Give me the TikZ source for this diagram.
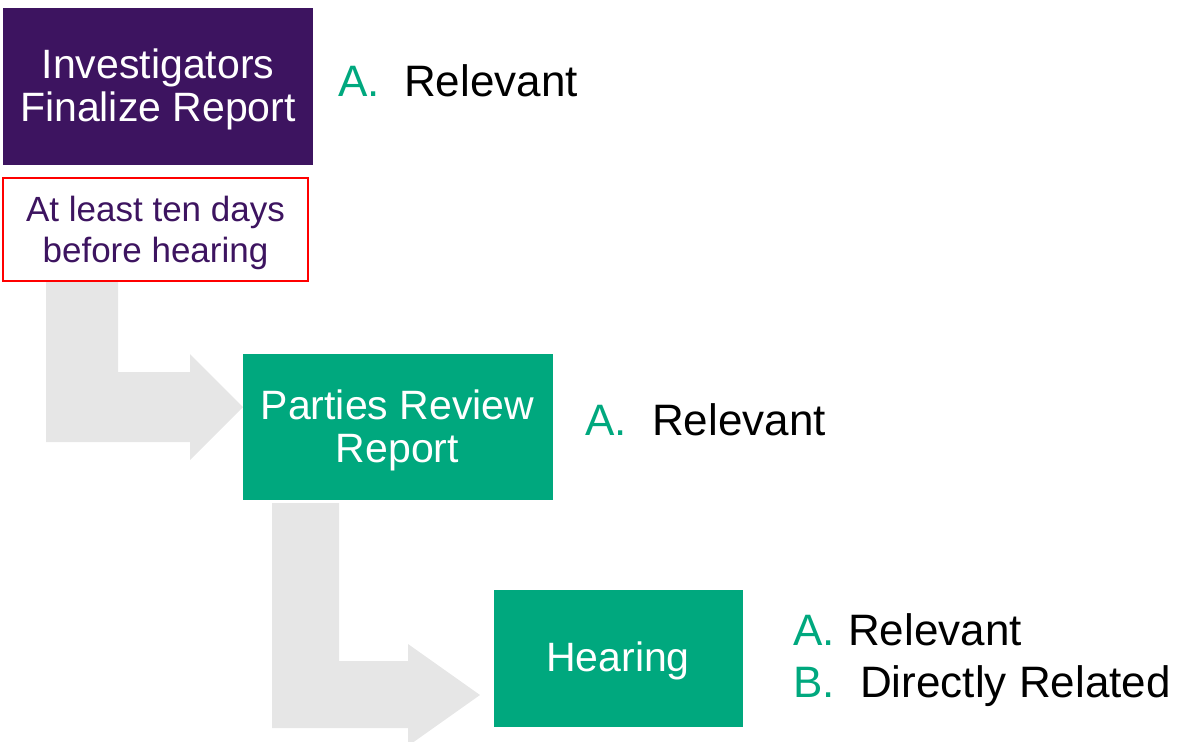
\documentclass[tikz,border=0pt]{standalone}
\usepackage{fontspec}
\setmainfont{Liberation Sans}
\definecolor{ipurple}{HTML}{3D1460}
\definecolor{igreen}{HTML}{00A87E}
\definecolor{igrey}{HTML}{E6E6E6}
\definecolor{ired}{HTML}{FF0000}
\tikzset{
  boxtext/.style={font=\fontsize{41bp}{43bp}\selectfont, text=white, align=center, inner sep=0pt, yshift=-3bp},
  purplebox/.style={fill=ipurple, inner sep=0pt},
  greenbox/.style={fill=igreen, inner sep=0pt},
  notebox/.style={draw=ired, line width=2bp, fill=white, inner sep=0pt},
  notetext/.style={text=ipurple, align=center, inner sep=0pt, yshift=-3bp,
     font=\fontsize{35bp}{41bp}\selectfont},
  listtext/.style={font=\fontsize{44bp}{52bp}\selectfont, text=black, inner sep=0pt, anchor=base west, align=left},
  blockarrow/.style={fill=igrey, draw=none}
}
\newcommand{\lbl}[2]{\makebox[#1][l]{\textcolor{igreen}{#2}}}
\begin{document}
\begin{tikzpicture}[x=1bp,y=-1bp]
\useasboundingbox (0,0) rectangle (1190,742);
\clip (0,0) rectangle (1190,742);
% block arrows
\fill[blockarrow] (46,281) -- (118,281) -- (118,372) -- (190,372) -- (190,354) -- (243,407)
  -- (190,460) -- (190,442) -- (46,442) -- cycle;
\fill[blockarrow] (272,503) -- (339,503) -- (339,661) -- (408,661) -- (408,644) -- (480,695)
  -- (408,746) -- (408,728) -- (272,728) -- cycle;
% boxes
\node[purplebox, minimum width=310bp, minimum height=157bp] (inv) at (158,86.5) {};
\node[boxtext] (invt) at (inv.center) {Investigators\\Finalize Report};
\node[notebox, minimum width=305bp, minimum height=103bp] (note) at (155.5,229.5) {};
\node[notetext] (notet) at (note.center) {At least ten days\\before hearing};
\node[greenbox, minimum width=310bp, minimum height=146bp] (par) at (397.5,427) {};
\node[boxtext] (part) at (par.center) {Parties Review\\Report};
\node[greenbox, minimum width=249bp, minimum height=137bp] (hear) at (618,658) {};
\node[boxtext] (heart) at (hear.center) {Hearing};
% lists
\node[listtext] (l1) at (338,97) {\lbl{66bp}{A.}Relevant};
\node[listtext] (l2) at (585,435) {\lbl{67bp}{A.}Relevant};
\node[listtext] (l3) at (793,645) {\lbl{55bp}{A.}Relevant};
\node[listtext] (l4) at (793,697) {\lbl{67bp}{B.}Directly Related};
\end{tikzpicture}
\end{document}
